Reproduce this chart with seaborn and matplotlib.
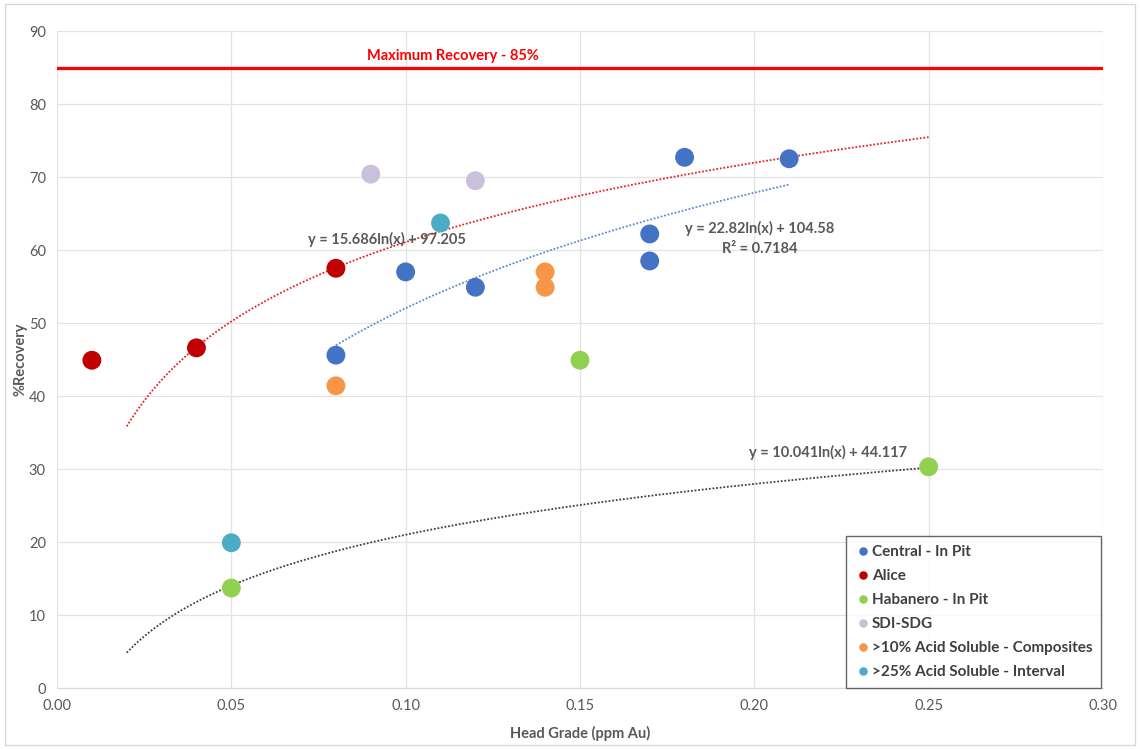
import numpy as np
import pandas as pd
import matplotlib
matplotlib.use("Agg")
import matplotlib.pyplot as plt
import seaborn as sns

# data
series_names = ["Central - In Pit", "Alice", "Habanero - In Pit", "SDI-SDG",
                ">10% Acid Soluble - Composites", ">25% Acid Soluble - Interval"]
series_colors = ["#4472C4", "#C00000", "#92D050", "#C9C0DC", "#F79646", "#4BACC6"]

central_x = [0.08, 0.10, 0.12, 0.17, 0.17, 0.18, 0.21]
central_y = [45.6, 57.0, 54.9, 62.2, 58.5, 72.7, 72.5]
alice_x = [0.01, 0.04, 0.08]
alice_y = [44.9, 46.6, 57.5]
habanero_x = [0.05, 0.15, 0.25]
habanero_y = [13.7, 44.9, 30.3]
sdi_x = [0.09, 0.12]
sdi_y = [70.4, 69.5]
acid10_x = [0.08, 0.14, 0.14]
acid10_y = [41.4, 57.0, 54.9]
acid25_x = [0.05, 0.11]
acid25_y = [19.9, 63.7]

# log trendlines as printed on the chart: y = a*ln(x) + b
trend_a = [15.686, 22.82, 10.041]
trend_b = [97.205, 104.58, 44.117]
trend_start = [0.02, 0.08, 0.02]
trend_end = [0.25, 0.21, 0.25]
trend_colors = ["#E8202A", "#5B8BD0", "#404040"]
trend_labels = ["y = 15.686ln(x) + 97.205", "y = 22.82ln(x) + 104.58\nR² = 0.7184",
                "y = 10.041ln(x) + 44.117"]
trend_label_pos = [(0.0946, 61.4), (0.2015, 61.6), (0.221, 32.3)]

max_recovery = 85

xs = [central_x, alice_x, habanero_x, sdi_x, acid10_x, acid25_x]
ys = [central_y, alice_y, habanero_y, sdi_y, acid10_y, acid25_y]
df = pd.concat([pd.DataFrame({"x": x, "y": y, "series": n})
                for x, y, n in zip(xs, ys, series_names)], ignore_index=True)

sns.set_style("white")
plt.rcParams["font.family"] = ["Lato", "DejaVu Sans"]
text_gray = "#595959"

fig = plt.figure(figsize=(11.4, 7.49), dpi=100)
ax = fig.add_axes([0.05, 0.0814, 0.9175, 0.8772])

# outer chart border
fig.patches.append(plt.Rectangle((0.004, 0.006), 0.992, 0.988, transform=fig.transFigure,
                                 fill=False, edgecolor="#D9D9D9", lw=1.0))

ax.axhline(max_recovery, color="#FF0000", lw=2.3, zorder=2)
ax.text(0.1135, max_recovery + 0.6, "Maximum Recovery - 85%", color="#FF0000",
        fontsize=10.5, fontweight="bold", ha="center", va="bottom")

for a, b, x0, x1, c in zip(trend_a, trend_b, trend_start, trend_end, trend_colors):
    tx = np.linspace(x0, x1, 200)
    ax.plot(tx, a * np.log(tx) + b, color=c, lw=1.3, ls=(0, (1, 1)), zorder=3)

sns.scatterplot(data=df, x="x", y="y", hue="series", hue_order=series_names,
                palette=series_colors, s=185, edgecolor="none", ax=ax, zorder=4)

for lbl, (lx, ly) in zip(trend_labels, trend_label_pos):
    ax.text(lx, ly, lbl, color=text_gray, fontsize=10.5, fontweight="bold",
            ha="center", va="center", linespacing=1.5, zorder=5)

ax.set_xlim(0, 0.30)
ax.set_ylim(0, 90)
ax.set_xticks(np.arange(0, 0.301, 0.05))
ax.set_yticks(np.arange(0, 91, 10))
ax.set_xticklabels([f"{v:.2f}" for v in np.arange(0, 0.301, 0.05)])
ax.grid(True, color="#E3E3E3", lw=0.9)
ax.set_axisbelow(True)
for s in ["top", "right", "left"]:
    ax.spines[s].set_visible(False)
ax.spines["bottom"].set_color("#D9D9D9")
ax.tick_params(axis="both", colors=text_gray, labelsize=10.5, length=0, pad=8)
ax.set_xlabel("Head Grade (ppm Au)", color=text_gray, fontsize=10.5, fontweight="bold",
              labelpad=9)
ax.set_ylabel("%Recovery", color=text_gray, fontsize=10.5, fontweight="bold", labelpad=1)

leg = ax.legend(loc="lower right", bbox_to_anchor=(0.9985, 0.0), frameon=True,
                fontsize=11, markerscale=0.45, handlelength=1.0, handletextpad=0.05,
                labelspacing=0.65, borderpad=0.6, fancybox=False, borderaxespad=0)
leg.get_frame().set_edgecolor("#404040")
leg.get_frame().set_linewidth(1.0)
for t in leg.get_texts():
    t.set_color("#404040")
    t.set_fontweight("bold")

fig.savefig("out.png", dpi=100)
